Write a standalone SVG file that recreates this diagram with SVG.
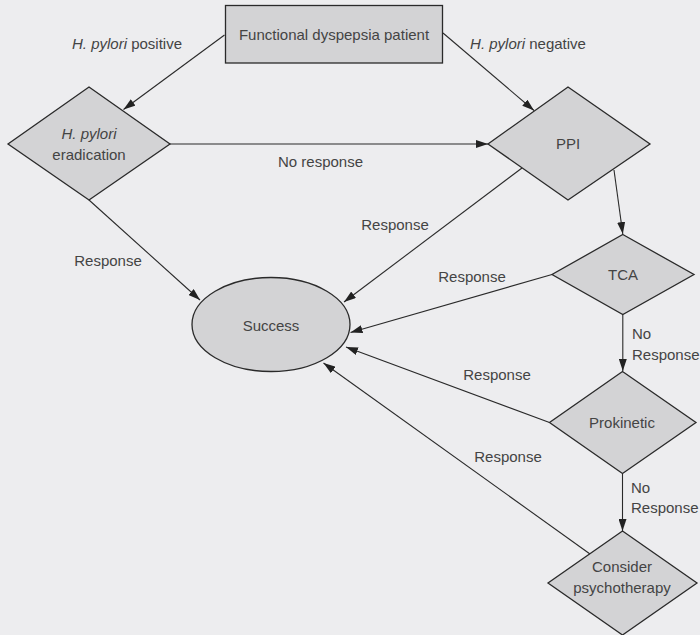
<svg xmlns="http://www.w3.org/2000/svg" width="700" height="635" viewBox="0 0 700 635">
<defs>
<marker id="ah" markerUnits="userSpaceOnUse" markerWidth="12" markerHeight="8" refX="12" refY="4" orient="auto">
<path d="M0,0 L12,4 L0,8 z" fill="#222"/>
</marker>
<style>
.n{fill:#d3d3d5;stroke:#2a2a2a;stroke-width:1.3}
.c{fill:none;stroke:#2a2a2a;stroke-width:1.1;marker-end:url(#ah)}
.cl{fill:none;stroke:#2a2a2a;stroke-width:1.1}
text{font-family:"Liberation Sans",Arial,sans-serif;font-size:15px;fill:#444;dominant-baseline:central}
.m{text-anchor:middle}
</style>
</defs>
<rect width="700" height="635" fill="#ededef"/>
<g id="connectors">
<line class="c" x1="224.5" y1="35" x2="123.5" y2="109.5"/>
<line class="c" x1="443" y1="33" x2="534" y2="110.5"/>
<line class="c" x1="169" y1="144" x2="488" y2="144"/>
<line class="c" x1="89" y1="200" x2="200" y2="300"/>
<line class="c" x1="522" y1="168" x2="344" y2="302"/>
<line class="c" x1="614" y1="170" x2="622.8" y2="234"/>
<line class="c" x1="552" y1="274.5" x2="350.5" y2="332.5"/>
<line class="c" x1="622.8" y1="314.5" x2="622.8" y2="371"/>
<line class="c" x1="549.5" y1="422.5" x2="346" y2="347"/>
<line class="c" x1="622.5" y1="473.5" x2="622.5" y2="531"/>
<line class="c" x1="590" y1="554" x2="323.5" y2="363"/>
<text x="127" y="43" class="m"><tspan font-style="italic">H. pylori</tspan> positive</text>
<text x="528" y="43" class="m"><tspan font-style="italic">H. pylori</tspan> negative</text>
<text x="320.5" y="161.5" class="m">No response</text>
<text x="108" y="260" class="m">Response</text>
<text x="395" y="224" class="m">Response</text>
<text x="472" y="276" class="m">Response</text>
<text x="497" y="374" class="m">Response</text>
<text x="508" y="456" class="m">Response</text>
<text x="632" y="333">No</text>
<text x="632" y="354">Response</text>
<text x="631" y="487">No</text>
<text x="631" y="507">Response</text>
</g>
<g id="patient">
<rect class="n" x="225.5" y="5.5" width="217" height="57.5"/>
<text x="334" y="34" class="m">Functional dyspepsia patient</text>
</g>
<g id="eradication">
<polygon class="n" points="89,87 170,144 89,200 8,144"/>
<text x="89" y="133" class="m" font-style="italic">H. pylori</text>
<text x="89" y="154" class="m">eradication</text>
</g>
<g id="ppi">
<polygon class="n" points="568,87 650,144 568,200 488,144"/>
<text x="568" y="143" class="m">PPI</text>
</g>
<g id="success">
<ellipse class="n" cx="271" cy="324.5" rx="79" ry="47"/>
<text x="271" y="325.5" class="m">Success</text>
</g>
<g id="tca">
<polygon class="n" points="622.8,234.5 694,274.5 622.8,314.5 552,274.5"/>
<text x="623" y="274" class="m">TCA</text>
</g>
<g id="prokinetic">
<polygon class="n" points="622.5,371.5 696,422.5 622.5,473.5 549.5,422.5"/>
<text x="622" y="422" class="m">Prokinetic</text>
</g>
<g id="psychotherapy">
<polygon class="n" points="622.5,531 697,583 622.5,635 548,583"/>
<text x="622" y="566" class="m">Consider</text>
<text x="622" y="587" class="m">psychotherapy</text>
</g>
</svg>
